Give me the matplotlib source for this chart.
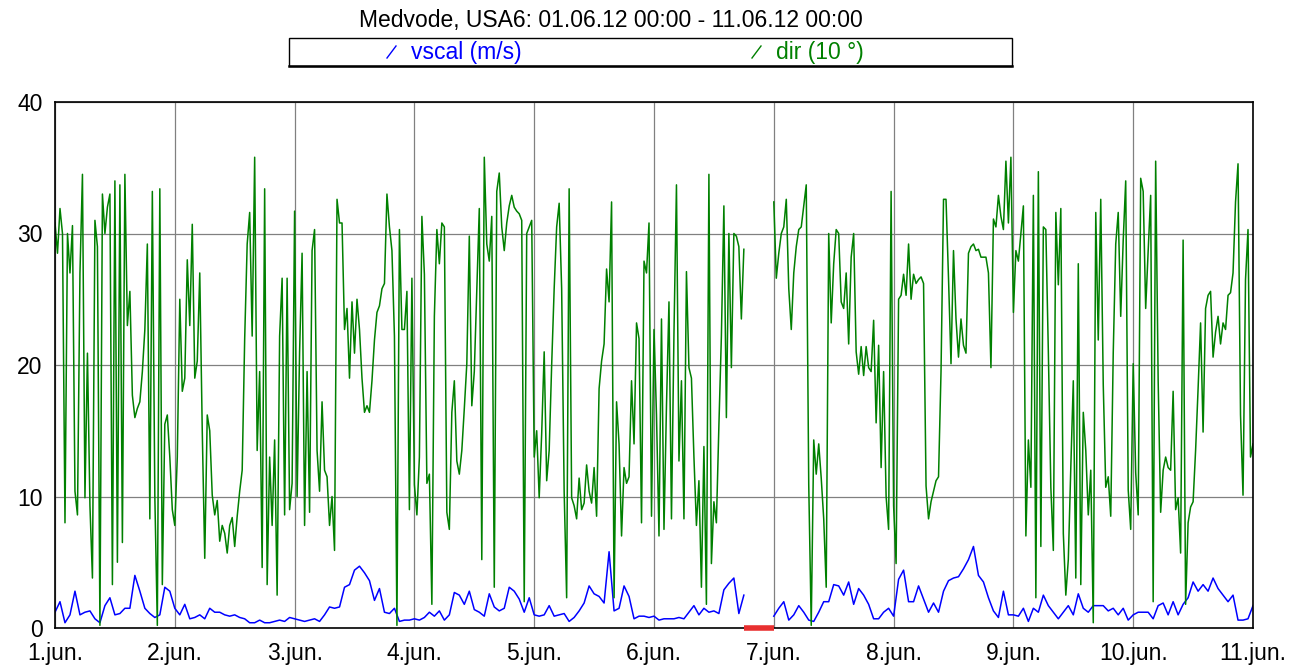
import numpy as np
import matplotlib
matplotlib.use("Agg")
import matplotlib.pyplot as plt
from matplotlib.lines import Line2D
from matplotlib.patches import Rectangle

plt.rcParams['font.family'] = ['Liberation Sans', 'DejaVu Sans']

# dir (10 °), one value per 30 minutes, per day
dir_d1 = [30.8, 28.5, 31.9, 30.0, 8.0, 30.0, 27.0, 30.6, 10.4, 8.6, 27.0, 34.5, 9.9, 20.9, 9.3, 3.8,
          31.0, 29.0, 0.2, 33.0, 30.0, 32.0, 33.0, 3.3, 34.0, 5.0, 33.7, 6.5, 34.5, 23.0, 25.6, 17.7,
          16.0, 16.7, 17.2, 19.5, 22.7, 29.2, 8.3, 33.2, 10.0, 0.2, 33.4, 3.3, 15.5, 16.2, 13.0, 9.0]
dir_d2 = [7.8, 13.0, 25.0, 18.0, 19.0, 28.0, 23.0, 30.7, 19.0, 20.3, 27.0, 15.0, 5.3, 16.2, 15.0, 10.1,
          8.6, 9.7, 6.6, 7.8, 7.2, 5.7, 7.8, 8.4, 6.2, 8.5, 10.4, 12.0, 22.0, 29.2, 31.6, 22.2,
          35.8, 13.5, 19.5, 4.6, 33.4, 3.3, 13.0, 7.8, 14.3, 2.5, 22.2, 26.6, 8.6, 26.6, 9.0, 11.0]
dir_d3 = [31.7, 10.0, 21.0, 28.5, 7.8, 19.5, 8.8, 28.7, 30.3, 13.5, 10.4, 17.2, 12.0, 11.5, 7.8, 10.0,
          5.9, 32.6, 30.8, 30.8, 22.7, 24.3, 19.0, 24.8, 20.9, 25.0, 22.7, 19.0, 16.4, 16.9, 16.4, 18.8,
          21.9, 24.0, 24.5, 25.8, 26.2, 33.0, 30.5, 28.7, 22.2, 0.2, 30.3, 22.7, 22.7, 25.6, 9.0, 26.6]
dir_d4 = [10.9, 8.6, 13.0, 31.3, 26.9, 11.0, 11.7, 1.8, 23.7, 30.3, 27.7, 30.8, 30.5, 8.8, 7.5, 16.4,
          18.8, 12.7, 11.7, 13.5, 16.7, 20.1, 29.8, 16.9, 19.5, 25.8, 31.9, 5.2, 35.8, 29.2, 27.9, 31.3,
          3.1, 33.2, 34.6, 30.5, 28.7, 30.8, 32.1, 32.9, 32.0, 31.7, 31.5, 31.0, 2.0, 30.0, 30.5, 31.0]
dir_d5 = [13.0, 15.0, 9.9, 14.8, 21.0, 11.2, 13.5, 20.0, 25.8, 30.5, 32.3, 25.8, 10.4, 2.3, 33.4, 9.9,
          9.3, 8.3, 11.4, 9.0, 9.5, 12.4, 10.4, 9.5, 12.2, 8.5, 18.2, 20.3, 21.6, 27.3, 24.8, 32.4,
          2.3, 17.2, 14.0, 7.0, 12.2, 11.0, 11.5, 18.8, 14.0, 23.2, 22.0, 8.0, 27.9, 27.0, 30.8, 8.5]
dir_d6 = [22.7, 16.2, 7.0, 23.5, 7.5, 16.9, 24.8, 8.3, 22.4, 33.7, 12.7, 18.8, 8.3, 27.1, 19.8, 19.0,
          13.0, 7.8, 11.2, 3.1, 13.8, 1.8, 34.5, 4.9, 9.6, 8.0, 15.4, 22.2, 32.1, 16.0, 30.0, 19.8,
          30.0, 29.8, 29.0, 23.5, 28.8] + [np.nan] * 11
dir_d7 = [32.4, 26.6, 28.5, 30.0, 30.5, 32.6, 25.8, 22.7, 27.0, 29.0, 30.3, 30.5, 32.1, 33.7, 10.9, 0.2,
          14.3, 11.7, 14.0, 11.4, 8.3, 3.1, 30.0, 23.2, 27.7, 30.3, 30.0, 24.8, 24.3, 27.0, 21.6, 28.2,
          30.0, 21.0, 19.3, 21.4, 19.2, 21.4, 19.8, 19.5, 23.4, 15.6, 21.5, 12.2, 19.5, 10.0, 7.5, 33.2]
dir_d8 = [9.3, 4.9, 25.0, 25.3, 26.9, 25.3, 29.2, 25.0, 26.9, 26.2, 26.5, 26.7, 26.2, 10.8, 8.3, 9.6,
          10.4, 11.2, 11.5, 19.5, 32.6, 32.6, 26.6, 20.1, 28.7, 23.5, 20.6, 23.5, 21.5, 20.9, 28.5, 29.0,
          29.2, 28.7, 28.8, 28.2, 28.2, 28.2, 27.0, 19.8, 31.1, 30.5, 32.9, 31.3, 30.3, 35.5, 30.8, 35.8]
dir_d9 = [24.0, 28.7, 27.9, 30.0, 32.1, 7.0, 14.3, 10.7, 32.9, 2.3, 34.7, 6.2, 30.5, 30.3, 21.0, 10.7,
          5.9, 31.6, 26.1, 31.9, 7.2, 2.5, 5.2, 12.2, 18.8, 3.8, 27.7, 3.3, 16.4, 13.5, 8.6, 12.0,
          0.4, 31.6, 21.9, 32.6, 18.5, 10.7, 11.5, 8.5, 20.9, 29.2, 31.6, 23.7, 29.5, 34.0, 10.5, 7.5]
dir_d10 = [20.1, 11.8, 8.6, 34.2, 33.2, 24.3, 28.7, 32.9, 2.0, 35.5, 18.8, 8.8, 12.0, 13.0, 12.2, 12.0,
           18.0, 9.0, 9.9, 5.7, 29.5, 1.8, 8.0, 9.2, 9.6, 13.5, 18.2, 23.2, 14.9, 24.3, 25.3, 25.6,
           20.6, 22.5, 23.7, 21.6, 23.2, 22.7, 25.3, 25.5, 27.0, 32.4, 35.3, 16.2, 10.1, 26.5, 30.3, 13.0,
           14.0]

# vscal (m/s), one value per hour, per day
vs_d1 = [1.2, 2.0, 0.4, 1.0, 2.8, 1.0, 1.2, 1.3, 0.7, 0.4, 1.7, 2.3, 1.0, 1.1, 1.5, 1.5, 4.0, 2.8, 1.5, 1.1, 0.8, 1.0, 3.1, 2.8]
vs_d2 = [1.5, 1.0, 1.8, 0.7, 0.8, 1.0, 0.7, 1.5, 1.2, 1.2, 1.0, 0.9, 1.0, 0.8, 0.7, 0.4, 0.4, 0.6, 0.4, 0.4, 0.5, 0.6, 0.5, 0.8]
vs_d3 = [0.7, 0.6, 0.5, 0.6, 0.7, 0.5, 1.0, 1.6, 1.5, 1.6, 3.1, 3.3, 4.4, 4.7, 4.2, 3.6, 2.1, 3.0, 1.2, 1.1, 1.5, 0.5, 0.6, 0.6]
vs_d4 = [0.7, 0.6, 0.8, 1.2, 0.9, 1.3, 0.6, 1.0, 2.7, 2.5, 1.8, 2.8, 1.4, 1.2, 0.9, 2.6, 1.6, 1.3, 1.5, 3.1, 2.8, 2.2, 1.2, 2.3]
vs_d5 = [1.0, 0.9, 1.0, 1.7, 0.9, 1.0, 1.1, 0.5, 0.8, 1.3, 1.9, 3.2, 2.6, 2.4, 1.9, 5.8, 1.3, 1.5, 3.2, 2.4, 0.7, 0.9, 0.9, 0.8]
vs_d6 = [0.9, 0.6, 0.7, 0.7, 0.7, 0.8, 0.7, 1.2, 1.7, 1.0, 1.5, 1.2, 1.3, 1.1, 2.9, 3.4, 3.8, 1.1, 2.5] + [np.nan] * 5
vs_d7 = [0.9, 1.5, 2.0, 0.6, 1.0, 1.7, 1.2, 0.6, 0.5, 1.2, 2.0, 2.0, 3.3, 3.2, 2.5, 3.5, 1.8, 3.0, 2.5, 1.8, 0.7, 0.7, 1.2, 1.5]
vs_d8 = [0.9, 3.7, 4.4, 2.0, 2.0, 3.2, 2.2, 1.2, 1.9, 1.2, 2.8, 3.6, 3.8, 3.9, 4.5, 5.2, 6.2, 4.0, 3.5, 2.3, 1.3, 0.8, 2.8, 1.0]
vs_d9 = [1.0, 0.9, 1.5, 0.5, 1.5, 1.2, 2.5, 1.7, 1.2, 0.7, 1.2, 1.7, 1.0, 2.6, 1.5, 1.2, 1.7, 1.7, 1.7, 1.3, 1.5, 1.0, 1.5, 0.6]
vs_d10 = [1.0, 1.2, 1.2, 1.2, 0.7, 1.7, 1.9, 1.0, 2.0, 1.0, 1.8, 2.3, 3.5, 2.8, 3.3, 2.8, 3.8, 3.0, 2.5, 2.0, 2.5, 0.6, 0.6, 0.7, 1.7]

day_labels = ["1.jun.", "2.jun.", "3.jun.", "4.jun.", "5.jun.", "6.jun.",
              "7.jun.", "8.jun.", "9.jun.", "10.jun.", "11.jun."]
y_ticks = [0, 10, 20, 30, 40]

dir_vals = np.array(dir_d1 + dir_d2 + dir_d3 + dir_d4 + dir_d5 + dir_d6 + dir_d7 + dir_d8 + dir_d9 + dir_d10)
vs_vals = np.array(vs_d1 + vs_d2 + vs_d3 + vs_d4 + vs_d5 + vs_d6 + vs_d7 + vs_d8 + vs_d9 + vs_d10)
t_dir = np.arange(len(dir_vals)) / 48.0   # days
t_vs = np.arange(len(vs_vals)) / 24.0

FS = 16.5

fig = plt.figure(figsize=(12.9, 6.68), dpi=100)
ax = fig.add_axes([55 / 1290, 1 - 628 / 668, (1253 - 55) / 1290, (628 - 102) / 668])

ax.plot(t_vs, vs_vals, color='#0000ff', lw=1.1)
ax.plot(t_dir, dir_vals, color='#008000', lw=1.1)

# missing data marker (red bar on the time axis)
nan_t = t_dir[np.isnan(dir_vals)]
ax.plot([nan_t.min() - 1 / 48.0, nan_t.max() + 1 / 48.0], [0, 0], color='#e83030', lw=4,
        solid_capstyle='butt', clip_on=False, zorder=5)

ax.set_xlim(0, len(day_labels) - 1)
ax.set_ylim(0, 40)
ax.set_xticks(range(len(day_labels)))
ax.set_xticklabels(day_labels)
ax.set_yticks(y_ticks)
ax.tick_params(axis='x', length=0, labelsize=FS, pad=10)
ax.tick_params(axis='y', length=0, labelsize=FS, pad=9)
ax.grid(True, color='#808080', lw=0.9)
ax.set_axisbelow(True)
for s in ax.spines.values():
    s.set_color('black')
    s.set_linewidth(1.2)

fig.text(611 / 1290, 1 - 21 / 668, "Medvode, USA6: 01.06.12 00:00 - 11.06.12 00:00",
         ha='center', va='center', fontsize=FS)

# legend box
fig.patches.append(Rectangle((289 / 1290, 1 - 66 / 668), (1012 - 289) / 1290, 28 / 668,
                             transform=fig.transFigure, facecolor='white', edgecolor='black', lw=1.0))
fig.lines.append(Line2D([289 / 1290, 1012 / 1290], [1 - 66 / 668] * 2, transform=fig.transFigure,
                        color='black', lw=1.8))
for x0, col, lab in [(387, '#0000ff', 'vscal (m/s)'), (752, '#008000', 'dir (10 °)')]:
    fig.lines.append(Line2D([x0 / 1290, (x0 + 9) / 1290], [1 - 58 / 668, 1 - 46 / 668],
                            transform=fig.transFigure, color=col, lw=1.0))
    fig.text((x0 + 24) / 1290, 1 - 52 / 668, lab, color=col, fontsize=FS, ha='left', va='center')

fig.savefig("out.png", dpi=100)
